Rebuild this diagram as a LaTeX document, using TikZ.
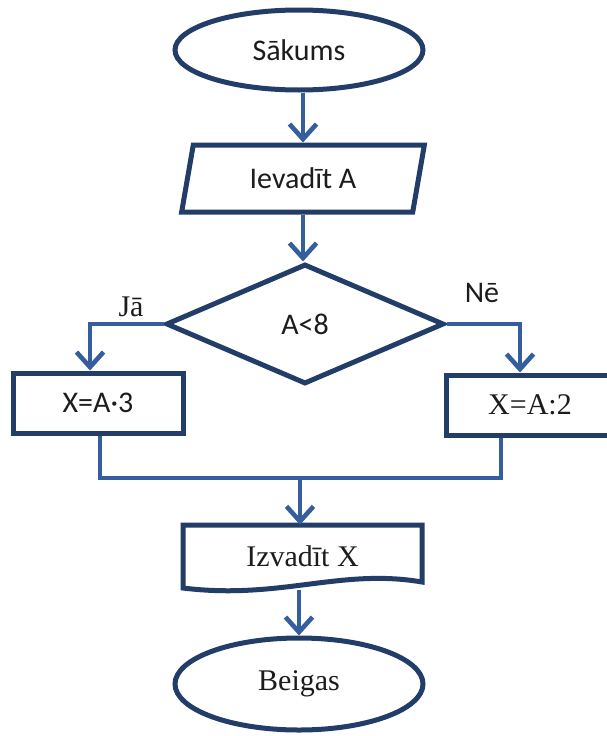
\documentclass[tikz,border=0pt]{standalone}
\usepackage{fontspec}
\newfontfamily\sansf{Carlito}
\newfontfamily\seriff{Liberation Serif}
\usetikzlibrary{shapes.geometric,arrows.meta}
\definecolor{linecol}{RGB}{52,94,158}
\definecolor{bordcol}{RGB}{34,62,104}
\definecolor{txtcol}{RGB}{28,28,28}
\tikzset{
  border/.style={draw=bordcol,line width=5pt,fill=white},
  flow/.style={draw=linecol,line width=4.6pt,-{Straight Barb[length=15pt,width=27pt,line width=4.6pt]}},
  thinflow/.style={draw=linecol,line width=3.2pt},
  sanstxt/.style={font=\sansf\fontsize{30}{34}\selectfont,text=txtcol},
  seriftxt/.style={font=\seriff\fontsize{30}{34}\selectfont,text=txtcol},
}
\begin{document}
\begin{tikzpicture}[x=1pt,y=-1pt]
\useasboundingbox (0,0) rectangle (606,736);
% terminals
\node[border,ellipse,sanstxt,minimum width=248,minimum height=80,inner sep=0] (start) at (299,50) {Sākums};
\node[border,trapezium,trapezium left angle=75,trapezium right angle=105,trapezium stretches=true,
      minimum width=243,minimum height=67,inner sep=0,sanstxt] (inp) at (303,178.5) {Ievadīt A};
\node[border,diamond,minimum width=278,minimum height=120,inner sep=0,sanstxt] (dec) at (305,324) {A<8};
\node[border,rectangle,minimum width=170,minimum height=60,inner sep=0,sanstxt] (lbox) at (98,403) {X=A·3};
\node[border,rectangle,minimum width=168,minimum height=60,inner sep=0,seriftxt] (rbox) at (530,405) {X=A:2};
% document shape
\node[minimum width=239,minimum height=63,inner sep=0] (out) at (302.5,556.5) {};
\draw[border,line join=miter] (183,525) -- (422,525) -- (422,582)
   .. controls (340,568) and (280,600) .. (183,588) -- cycle;
\node[seriftxt] at (out.center) {Izvadīt X};
\node[border,ellipse,seriftxt,minimum width=248,minimum height=92,inner sep=0] (end) at (299,684) {Beigas};
% labels
\node[seriftxt] (ja) at (131,307) {Jā};
\node[sanstxt] (ne) at (482,293) {Nē};
% connectors
\draw[flow] (start.south -| inp.north) -- (inp.north);
\draw[flow] (inp.south) -- (inp.south |- dec.north);
\draw[flow] (dec.west) -| ([xshift=-8pt]lbox.north);
\draw[flow] (dec.east) -| ([xshift=-10pt]rbox.north);
\coordinate (m) at (300,478);
\draw[thinflow] ([xshift=2pt]lbox.south) |- (m);
\draw[thinflow] ([xshift=-29pt]rbox.south) |- (m);
\draw[flow] (m) -- (m |- out.north);
\draw[flow] ([yshift=-2pt]end.north |- out.south) -- (end.north);
\end{tikzpicture}
\end{document}
